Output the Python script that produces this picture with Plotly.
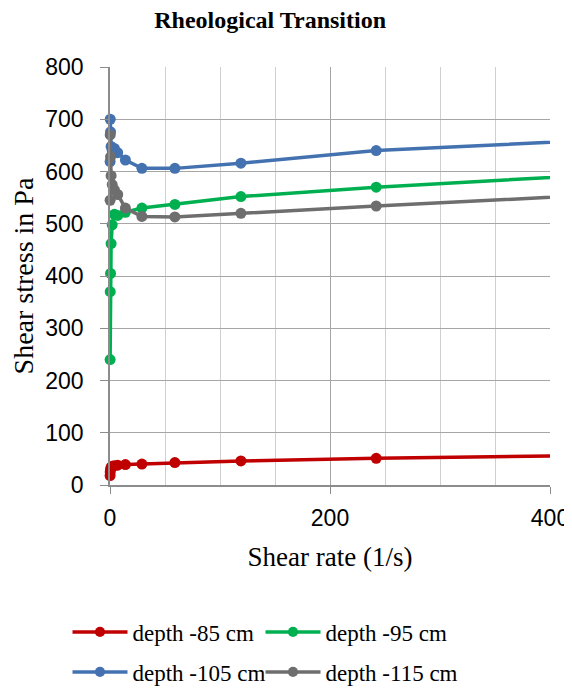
import plotly.graph_objects as go

shear_rate = [0.1, 0.2, 0.5, 1, 2, 4, 7, 14, 29, 59, 119, 242, 490]
depth_85 = [18, 25, 30, 34, 36, 37, 38, 39, 40, 43, 46, 51, 58]
depth_95 = [240, 370, 405, 462, 498, 518, 516, 522, 530, 537, 552, 570, 599]
depth_105 = [619, 700, 676, 648, 640, 644, 636, 622, 606, 606, 616, 640, 665]
depth_115 = [545, 670, 628, 592, 575, 565, 556, 530, 514, 513, 520, 534, 560]

names = ["depth -85 cm", "depth -95 cm", "depth -105 cm", "depth -115 cm"]
colors = ["#C00000", "#00B050", "#4472B0", "#6E6E6E"]
series = [depth_85, depth_95, depth_105, depth_115]
legend_ids = ["legend", "legend2", "legend3", "legend4"]

# page has an 8px body margin: figure is 564x680 drawn at (8, 8)
W, H = 564, 680

X_MAX = 400
fig = go.Figure()
for name, col, ys, lg in zip(names, colors, series, legend_ids):
    sizes = [11 if x <= X_MAX else 0 for x in shear_rate]
    fig.add_trace(go.Scatter(
        x=shear_rate, y=ys, name=name, mode="lines+markers",
        line=dict(color=col, width=3.5),
        marker=dict(color=col, size=sizes, opacity=1, line=dict(width=0)),
        cliponaxis=False, legend=lg,
    ))

serif = "Liberation Serif"
sans = "Liberation Sans"

def leg(xpx, ypx):
    return dict(orientation="h", xref="container", x=xpx / W, xanchor="left",
                yref="container", y=1 - ypx / H, yanchor="middle",
                font=dict(family=serif, size=23, color="black"),
                itemwidth=55, bgcolor="rgba(0,0,0,0)")

fig.update_layout(
    width=W, height=H,
    margin=dict(l=102, r=22, t=59, b=203),
    paper_bgcolor="white", plot_bgcolor="white",
    title=dict(text="<b>Rheological Transition</b>", font=dict(family=serif, size=24, color="black"),
               x=0.364, xref="paper", xanchor="center", y=1 - 12 / H, yanchor="middle"),
    showlegend=True,
    legend=leg(59.5, 624),
    legend2=leg(252.5, 624),
    legend3=leg(59.5, 664),
    legend4=leg(252.5, 664),
    xaxis=dict(
        range=[0, X_MAX], dtick=200, tick0=0, automargin=False,
        showgrid=True, gridcolor="#A6A6A6", gridwidth=1.3,
        minor=dict(dtick=50, showgrid=True, gridcolor="#D0D0D0", gridwidth=1.3),
        showline=True, linecolor="#8C8C8C", linewidth=1.5,
        zeroline=False,
        ticks="outside", ticklen=7, tickcolor="#8C8C8C", tickwidth=1.3,
        ticklabelstandoff=5,
        tickfont=dict(family=sans, size=23, color="black"),
        title=dict(text="Shear rate (1/s)", font=dict(family=serif, size=27, color="black"), standoff=17),
    ),
    yaxis=dict(
        range=[0, 800], dtick=100, tick0=0, automargin=False,
        showgrid=True, gridcolor="#A6A6A6", gridwidth=1.3,
        showline=True, linecolor="#8C8C8C", linewidth=1.5,
        zeroline=False,
        ticks="outside", ticklen=8, tickcolor="#8C8C8C", tickwidth=1.3,
        ticklabelstandoff=12,
        tickfont=dict(family=sans, size=23, color="black"),
        title=dict(text="Shear stress in Pa", font=dict(family=serif, size=28, color="black"), standoff=8),
    ),
)

fig.write_html("out.html")
